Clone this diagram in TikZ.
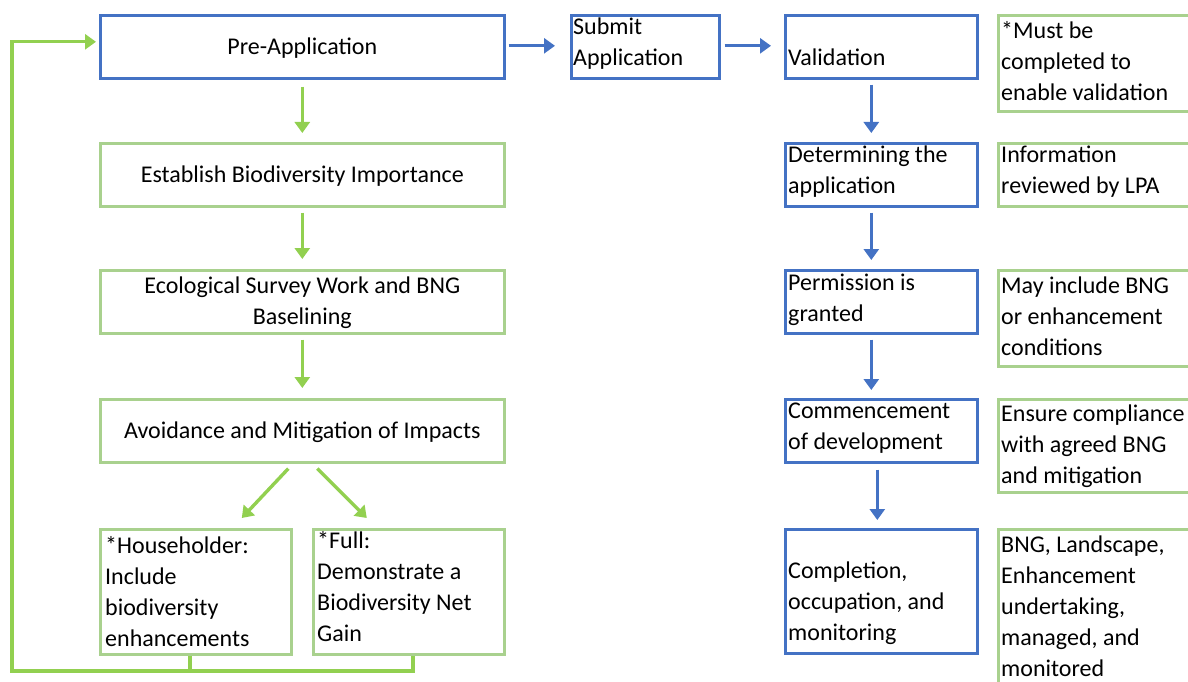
\documentclass[tikz,border=0pt]{standalone}
\usepackage{fontspec}
\setmainfont{Carlito}
\usetikzlibrary{arrows.meta}
\definecolor{bblue}{HTML}{4472C4}
\definecolor{gbox}{HTML}{A9D18E}
\definecolor{garr}{HTML}{92D050}
\tikzset{
  box/.style={draw, line width=2.6pt, rectangle, inner sep=0pt, anchor=north west},
  bluebox/.style={box, draw=bblue},
  greenbox/.style={box, draw=gbox},
  txt/.style={inner sep=0pt, anchor=north west, align=left, font=\fontsize{24}{31}\selectfont},
  ctxt/.style={inner sep=0pt, anchor=center, align=center, font=\fontsize{24}{31}\selectfont},
  barrow/.style={draw=bblue, line width=3.4pt, -{Triangle[length=11pt,width=15pt]}},
  garrow/.style={draw=garr, line width=3.4pt, -{Triangle[length=11pt,width=15pt]}},
  gline/.style={draw=garr, line width=3.4pt}
}
\begin{document}
\begin{tikzpicture}[x=1pt,y=-1pt]
\useasboundingbox (0,0) rectangle (1188,682);
\clip (0,0) rectangle (1188,682);
% left column boxes
\node[bluebox, minimum width=404pt, minimum height=63pt] (pre) at (99,14) {};
\node[greenbox, minimum width=404pt, minimum height=63pt] (est) at (99,142) {};
\node[greenbox, minimum width=404pt, minimum height=63pt] (eco) at (99,269) {};
\node[greenbox, minimum width=404pt, minimum height=63pt] (avo) at (99,398) {};
\node[greenbox, minimum width=191pt, minimum height=125pt] (hh) at (99,528) {};
\node[greenbox, minimum width=191pt, minimum height=125pt] (full) at (312,528) {};
% middle / right boxes
\node[bluebox, minimum width=148pt, minimum height=63pt] (sub) at (570,14) {};
\node[bluebox, minimum width=192pt, minimum height=63pt] (val) at (784,14) {};
\node[bluebox, minimum width=192pt, minimum height=63pt] (det) at (784,142) {};
\node[bluebox, minimum width=192pt, minimum height=63pt] (perm) at (784,269) {};
\node[bluebox, minimum width=192pt, minimum height=63pt] (com) at (784,398) {};
\node[bluebox, minimum width=192pt, minimum height=124pt] (compl) at (784,528) {};
\node[greenbox, minimum width=200pt, minimum height=96pt] (must) at (997,14) {};
\node[greenbox, minimum width=200pt, minimum height=63pt] (info) at (997,142) {};
\node[greenbox, minimum width=200pt, minimum height=96pt] (may) at (997,269) {};
\node[greenbox, minimum width=200pt, minimum height=93pt] (ens) at (997,398) {};
\node[greenbox, minimum width=200pt, minimum height=170pt] (bngl) at (997,528) {};
% texts
\node[ctxt] (tpre) at ([yshift=-1pt]pre.center) {Pre-Application};
\node[ctxt] (test) at ([yshift=-1pt]est.center) {Establish Biodiversity Importance};
\node[ctxt] (teco) at ([yshift=-1pt]eco.center) {Ecological Survey Work and BNG\\Baselining};
\node[ctxt] (tavo) at ([yshift=-1pt]avo.center) {Avoidance and Mitigation of Impacts};
\node[txt] (thh) at (105,532) {\strut*Householder:\\Include\\biodiversity\\enhancements};
\node[txt] (tfull) at (317,527) {\strut*Full:\\Demonstrate a\\Biodiversity Net\\Gain};
\node[txt] (tsub) at (573,13) {\strut Submit\\Application};
\node[txt] (tval) at (788,44) {\strut Validation};
\node[txt] (tdet) at (788,141) {\strut Determining the\\application};
\node[txt] (tperm) at (788,269) {\strut Permission is\\granted};
\node[txt] (tcom) at (788,397) {\strut Commencement\\of development};
\node[txt] (tcompl) at (788,557) {\strut Completion,\\occupation, and\\monitoring};
\node[txt] (tmust) at (1001,17) {\strut *Must be\\completed to\\enable validation};
\node[txt] (tinfo) at (1001,141) {\strut Information\\reviewed by LPA};
\node[txt] (tmay) at (1001,272) {\strut May include BNG\\or enhancement\\conditions};
\node[txt] (tens) at (1001,400) {\strut Ensure compliance\\with agreed BNG\\and mitigation};
\node[txt] (tbngl) at (1001,531) {\strut BNG, Landscape,\\Enhancement\\undertaking,\\managed, and\\monitored};
% left arrows
\draw[garrow] ([yshift=-7pt]pre.south) -- ([yshift=9pt]est.north);
\draw[garrow] ([yshift=-5pt]est.south) -- ([yshift=10pt]eco.north);
\draw[garrow] ([yshift=-5pt]eco.south) -- ([yshift=10pt]avo.north);
\draw[garrow] ([xshift=-14pt,yshift=-5pt]avo.south) -- ([xshift=46pt,yshift=10pt]hh.north);
\draw[garrow] ([xshift=15pt,yshift=-5pt]avo.south) -- ([xshift=-42pt,yshift=10pt]full.north);
% feedback loop
\coordinate (lb) at (12,671);
\draw[gline] ([xshift=-6pt]hh.south) -- ([xshift=-6pt]hh.south |- lb);
\draw[garrow] ([xshift=4pt]full.south) |- (lb) |- ([xshift=-3pt,yshift=5pt]pre.west);
% horizontal arrows
\draw[barrow] ([xshift=3pt,yshift=1pt]pre.east) -- ([xshift=-15pt,yshift=1pt]sub.west);
\draw[barrow] ([xshift=4pt,yshift=1pt]sub.east) -- ([xshift=-13pt,yshift=1pt]val.west);
% right column arrows
\draw[barrow] ([xshift=-10pt,yshift=-5pt]val.south) -- ([xshift=-10pt,yshift=9pt]det.north);
\draw[barrow] ([xshift=-10pt,yshift=-5pt]det.south) -- ([xshift=-10pt,yshift=9pt]perm.north);
\draw[barrow] ([xshift=-10pt,yshift=-5pt]perm.south) -- ([xshift=-10pt,yshift=8pt]com.north);
\draw[barrow] ([xshift=-4pt,yshift=-6pt]com.south) -- ([xshift=-4pt,yshift=8pt]compl.north);
\end{tikzpicture}
\end{document}
